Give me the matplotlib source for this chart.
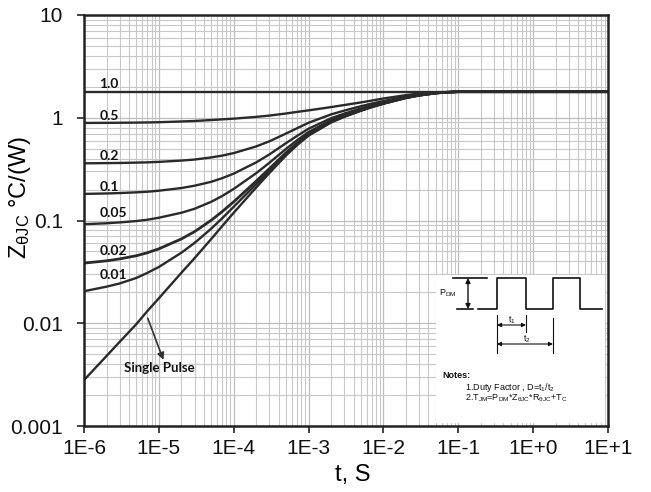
import matplotlib
matplotlib.use("Agg")
import matplotlib.pyplot as plt
from matplotlib.ticker import LogLocator, NullFormatter

plt.rcParams['font.family'] = ['Liberation Sans', 'DejaVu Sans']
plt.rcParams['mathtext.default'] = 'regular'

# pulse width values (seconds)
t = [1e-6, 2e-6, 3e-6, 5e-6, 7e-6,
     1e-5, 2e-5, 3e-5, 5e-5, 7e-5,
     1e-4, 2e-4, 3e-4, 5e-4, 7e-4,
     1e-3, 2e-3, 3e-3, 5e-3, 7e-3,
     1e-2, 2e-2, 3e-2, 5e-2, 7e-2,
     1e-1, 1, 10]

# transient thermal impedance, degC/W
z_d100 = [1.79] * 28
z_d50 = [0.89, 0.892, 0.894, 0.897, 0.90,
         0.905, 0.92, 0.93, 0.95, 0.965,
         0.98, 1.02, 1.05, 1.10, 1.14,
         1.18, 1.27, 1.33, 1.41, 1.47,
         1.54, 1.66, 1.72, 1.765, 1.78,
         1.79, 1.79, 1.79]
z_d20 = [0.360, 0.362, 0.363, 0.366, 0.368,
         0.372, 0.383, 0.392, 0.411, 0.428,
         0.453, 0.526, 0.59, 0.702, 0.79,
         0.894, 1.078, 1.174, 1.294, 1.374,
         1.454, 1.606, 1.678, 1.746, 1.774,
         1.79, 1.79, 1.79]
z_d10 = [0.1815, 0.1833, 0.185, 0.188, 0.1905,
         0.195, 0.207, 0.218, 0.238, 0.258,
         0.286, 0.368, 0.44, 0.566, 0.665,
         0.782, 0.989, 1.097, 1.232, 1.322,
         1.412, 1.583, 1.664, 1.74, 1.772,
         1.79, 1.79, 1.79]
z_d05 = [0.092, 0.094, 0.0958, 0.0988, 0.1017,
         0.1064, 0.119, 0.130, 0.152, 0.173,
         0.203, 0.289, 0.365, 0.498, 0.603,
         0.726, 0.945, 1.059, 1.201, 1.296,
         1.391, 1.571, 1.657, 1.738, 1.771,
         1.79, 1.79, 1.79]
z_d02 = [0.0385, 0.0405, 0.0423, 0.0454, 0.0485,
         0.053, 0.0662, 0.0779, 0.1005, 0.122,
         0.152, 0.242, 0.320, 0.457, 0.565,
         0.692, 0.918, 1.036, 1.182, 1.28,
         1.378, 1.565, 1.653, 1.736, 1.77,
         1.79, 1.79, 1.79]
z_d01 = [0.0205, 0.0227, 0.0244, 0.0276, 0.0309,
         0.0353, 0.0486, 0.0605, 0.0832, 0.105,
         0.136, 0.226, 0.305, 0.444, 0.553,
         0.681, 0.909, 1.028, 1.176, 1.275,
         1.374, 1.562, 1.652, 1.736, 1.77,
         1.79, 1.79, 1.79]
z_single = [0.0028, 0.0048, 0.0066, 0.0098, 0.0131,
            0.0175, 0.031, 0.043, 0.066, 0.088,
            0.119, 0.21, 0.29, 0.43, 0.54,
            0.67, 0.90, 1.02, 1.17, 1.27,
            1.37, 1.56, 1.65, 1.735, 1.77,
            1.79, 1.79, 1.79]

curves = [z_d100, z_d50, z_d20, z_d10, z_d05, z_d02, z_d01, z_single]
duty_labels = ["1.0", "0.5", "0.2", "0.1", "0.05", "0.02", "0.01"]
duty_label_z = [2.14, 1.03, 0.427, 0.214, 0.119, 0.050, 0.0296]

xticks = [1e-6, 1e-5, 1e-4, 1e-3, 1e-2, 1e-1, 1, 10]
xtick_labels = ["1E-6", "1E-5", "1E-4", "1E-3", "1E-2", "1E-1", "1E+0", "1E+1"]
yticks = [0.001, 0.01, 0.1, 1, 10]
ytick_labels = ["0.001", "0.01", "0.1", "1", "10"]

W, H = 651, 492
fig = plt.figure(figsize=(W / 100, H / 100), dpi=100)
ax = fig.add_axes([84 / W, 66 / H, 524 / W, 411 / H])

line_col = '#2a2a2a'
for z in curves:
    lw = 2.0 if z is z_d02 else 1.7
    ax.plot(t, z, color=line_col, lw=lw, solid_capstyle='butt')

ax.set_xscale('log')
ax.set_yscale('log')
ax.set_xlim(1e-6, 10)
ax.set_ylim(1e-3, 10)

ax.set_xticks(xticks)
ax.set_xticklabels(xtick_labels)
ax.set_yticks(yticks)
ax.set_yticklabels(ytick_labels)
for axis in (ax.xaxis, ax.yaxis):
    axis.set_minor_locator(LogLocator(base=10, subs=range(2, 10), numticks=20))
    axis.set_minor_formatter(NullFormatter())
ax.tick_params(which='major', direction='out', length=5, width=1.2,
               color='#222222', labelsize=15, labelcolor='#111111')
ax.tick_params(axis='y', which='major', pad=10)
ax.tick_params(axis='x', which='major', pad=4)
ax.tick_params(which='minor', length=0)

ax.grid(which='major', color='#bdbdbd', lw=0.9)
ax.grid(which='minor', color='#c8c8c8', lw=0.8)
ax.set_axisbelow(True)

for side in ['left', 'bottom', 'right', 'top']:
    ax.spines[side].set_linewidth(1.8)
    ax.spines[side].set_color('#222222')

for lab, zy in zip(duty_labels, duty_label_z):
    ax.text(1.6e-6, zy, lab, ha='left', va='center', fontsize=10,
            fontweight='bold', family=['Lato', 'DejaVu Sans'], color='#111111')

ax.annotate("", xy=(1.15e-5, 0.0044), xytext=(7.1e-6, 0.0112),
            arrowprops=dict(arrowstyle='-|>', color='#333333', lw=1.2,
                            mutation_scale=10, shrinkA=0, shrinkB=0))
ax.text(1.0e-5, 0.0037, "Single Pulse", ha='center', va='center', fontsize=9.5,
        fontweight='bold', family=['Lato', 'DejaVu Sans'], color='#111111')

ax.set_xlabel("t, S", fontsize=17)
ax.xaxis.set_label_coords(0.513, -0.093)
ax.set_ylabel(r"Z$_{\mathregular{\theta JC}}$ °C/(W)", fontsize=17)
ax.yaxis.set_label_coords(-0.097, 0.557)

# inset with pulse diagram and notes (local pixel-like coordinates)
ins = fig.add_axes([436 / W, (H - 423) / H, 169 / W, 148 / H])
ins.set_xlim(0, 169)
ins.set_ylim(148, 0)
ins.axis('off')
ins.add_patch(plt.Rectangle((0, 0), 169, 148, facecolor='white', edgecolor='none'))

k = '#111111'
ins.plot([17, 51], [3, 3], color=k, lw=1.2)
ins.plot([21, 37], [34, 34], color=k, lw=1.2)
ins.annotate("", xy=(32, 3), xytext=(32, 34),
             arrowprops=dict(arrowstyle='<|-|>', color=k, lw=1.0,
                             mutation_scale=7, shrinkA=0, shrinkB=0))
ins.text(12, 18, r"P$_{DM}$", ha='center', va='center', fontsize=6.5, color=k)
ins.plot([42, 61, 61, 90, 90, 117, 117, 144, 144, 166],
         [34, 34, 3, 3, 34, 34, 3, 3, 34, 34], color=k, lw=1.2)

ins.plot([61, 61], [40, 78], color=k, lw=0.8)
ins.plot([90, 90], [40, 57], color=k, lw=0.8)
ins.plot([117, 117], [43, 78], color=k, lw=0.8)
ins.annotate("", xy=(61, 50), xytext=(90, 50),
             arrowprops=dict(arrowstyle='<|-|>', color=k, lw=0.8,
                             mutation_scale=6, shrinkA=0, shrinkB=0))
ins.annotate("", xy=(61, 69), xytext=(117, 69),
             arrowprops=dict(arrowstyle='<|-|>', color=k, lw=0.8,
                             mutation_scale=6, shrinkA=0, shrinkB=0))
ins.text(76, 45, r"t$_1$", ha='center', va='center', fontsize=6.5, color=k)
ins.text(91, 64, r"t$_2$", ha='center', va='center', fontsize=6.5, color=k)

ins.text(6, 100, "Notes:", ha='left', va='center', fontsize=6.5,
         fontweight='bold', color=k)
ins.text(29, 112, r"1.Duty Factor , D=t$_1$/t$_2$", ha='left', va='center',
         fontsize=6.5, color=k)
ins.text(29, 123, r"2.T$_{JM}$=P$_{DM}$*Z$_{\theta JC}$*R$_{\theta JC}$+T$_C$",
         ha='left', va='center', fontsize=6.5, color=k)

fig.savefig("out.png", dpi=100)
